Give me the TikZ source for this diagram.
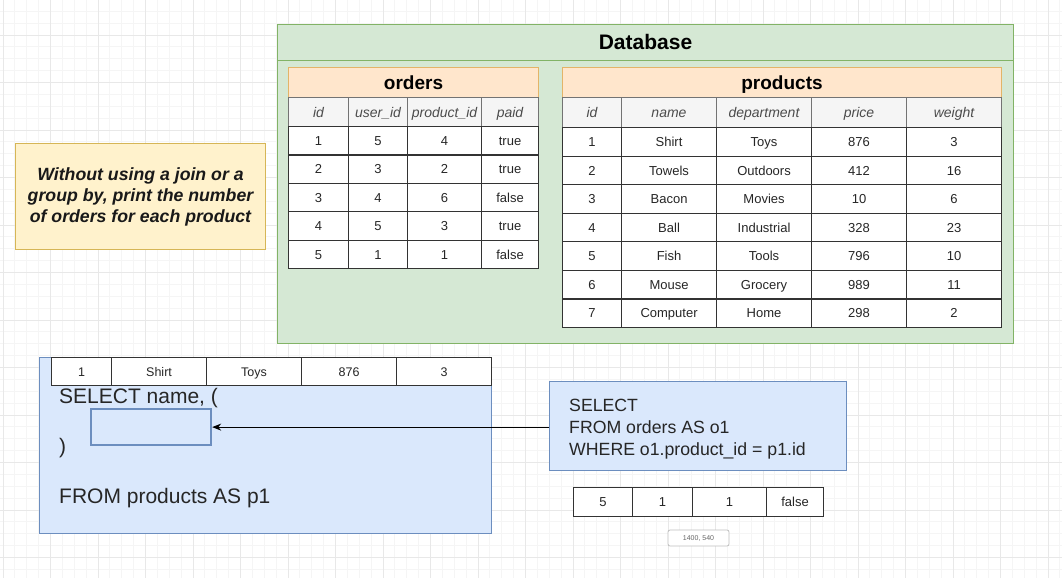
\documentclass[tikz,border=0pt]{standalone}
\usepackage{fontspec}
\setmainfont{Liberation Sans}
\usetikzlibrary{arrows.meta}
\definecolor{dbfill}{HTML}{D5E8D4}
\definecolor{dbline}{HTML}{82B366}
\definecolor{orfill}{HTML}{FFE6CC}
\definecolor{orline}{HTML}{E3B468}
\definecolor{yfill}{HTML}{FFF2CC}
\definecolor{yline}{HTML}{D6B656}
\definecolor{bfill}{HTML}{DAE8FC}
\definecolor{bline}{HTML}{6C8EBF}
\definecolor{hdfill}{HTML}{F5F5F5}
\definecolor{gridminor}{HTML}{F5F5F5}
\definecolor{gridmajor}{HTML}{E8E8E8}
\newcommand\tcell[7]{%
  \pgfmathsetmacro\cw{#4-#2}\pgfmathsetmacro\ch{#5-#3}%
  \node[#6, minimum width=\cw pt, minimum height=\ch pt, anchor=north west] (#1) at (#2,#3) {#7};}
\tikzset{
  box/.style={inner sep=0pt, line width=1pt},
  fixline/.style={text height=#1, text depth=0pt},
  dbbox/.style={box, draw=dbline, fill=dbfill},
  titlebox/.style={box, fixline=13.6pt, draw=orline, fill=orfill, font=\bfseries\fontsize{19}{22}\selectfont},
  hcell/.style={box, fixline=10pt, draw=black!55, fill=hdfill, text=black!70, font=\itshape\fontsize{14}{16}\selectfont},
  dcell/.style={box, fixline=9.3pt, draw=black!80, line width=1.1pt, fill=white, text=black!85, font=\fontsize{13}{15}\selectfont},
  ybox/.style={box, draw=yline, fill=yfill, align=center, text=black!90, font=\bfseries\itshape\fontsize{17.7}{21}\selectfont},
  bbox/.style={box, draw=bline, fill=bfill},
  sqlbig/.style={inner sep=0pt, anchor=base west, text=black!85, font=\fontsize{21}{24}\selectfont},
  sqlsmall/.style={inner sep=0pt, anchor=base west, text=black!85, font=\fontsize{17.7}{21}\selectfont},
}
\begin{document}
\begin{tikzpicture}[x=1pt,y=-1pt]
\useasboundingbox (0,0) rectangle (1062,578);
\fill[white] (0,0) rectangle (1062,578);
% grid
\foreach \i in {0,...,90} {
  \pgfmathsetmacro\gx{3+\i*11.875}
  \draw[gridminor, line width=0.8pt] (\gx,0) -- (\gx,578);
}
\foreach \j in {0,...,50} {
  \pgfmathsetmacro\gy{-12.5+\j*11.875}
  \draw[gridminor, line width=0.8pt] (0,\gy) -- (1062,\gy);
}
\foreach \i in {0,...,22} {
  \pgfmathsetmacro\gx{3+\i*47.5}
  \draw[gridmajor, line width=0.9pt] (\gx,0) -- (\gx,578);
}
\foreach \j in {0,...,12} {
  \pgfmathsetmacro\gy{-12.5+\j*47.5}
  \draw[gridmajor, line width=0.9pt] (0,\gy) -- (1062,\gy);
}
% database container
\tcell{dbtitle}{277}{24}{1013}{60}{dbbox, fixline=15pt, font=\bfseries\fontsize{21}{24}\selectfont}{Database}
\tcell{dbbody}{277}{60}{1013}{343}{dbbox}{}
% orders table
\tcell{ordtitle}{288}{67}{538}{97}{titlebox}{orders}
\foreach \xa/\xb/\t [count=\c] in {288/348/id, 348/407/user\_id, 407/481/product\_id, 481/538/paid} {
  \tcell{oh\c}{\xa}{97}{\xb}{126}{hcell}{\t}
}
\foreach \ra/\rb/\rc/\rd [count=\r] in {1/5/4/true, 2/3/2/true, 3/4/6/false, 4/5/3/true, 5/1/1/false} {
  \pgfmathsetmacro\ya{126+(\r-1)*28.4}
  \pgfmathsetmacro\yb{\ya+28.4}
  \tcell{o\r-1}{288}{\ya}{348}{\yb}{dcell}{\ra}
  \tcell{o\r-2}{348}{\ya}{407}{\yb}{dcell}{\rb}
  \tcell{o\r-3}{407}{\ya}{481}{\yb}{dcell}{\rc}
  \tcell{o\r-4}{481}{\ya}{538}{\yb}{dcell}{\rd}
}
% products table
\tcell{prodtitle}{562}{67}{1001}{97}{titlebox}{products}
\foreach \xa/\xb/\t [count=\c] in {562/621/id, 621/716/name, 716/811/department, 811/906/price, 906/1001/weight} {
  \tcell{ph\c}{\xa}{97}{\xb}{127}{hcell}{\t}
}
\foreach \ra/\rb/\rc/\rd/\re [count=\r] in {1/Shirt/Toys/876/3, 2/Towels/Outdoors/412/16, 3/Bacon/Movies/10/6, 4/Ball/Industrial/328/23, 5/Fish/Tools/796/10, 6/Mouse/Grocery/989/11, 7/Computer/Home/298/2} {
  \pgfmathsetmacro\ya{127+(\r-1)*28.57}
  \pgfmathsetmacro\yb{\ya+28.57}
  \tcell{p\r-1}{562}{\ya}{621}{\yb}{dcell}{\ra}
  \tcell{p\r-2}{621}{\ya}{716}{\yb}{dcell}{\rb}
  \tcell{p\r-3}{716}{\ya}{811}{\yb}{dcell}{\rc}
  \tcell{p\r-4}{811}{\ya}{906}{\yb}{dcell}{\rd}
  \tcell{p\r-5}{906}{\ya}{1001}{\yb}{dcell}{\re}
}
% task note
\tcell{task}{15}{143}{265}{249}{ybox}{Without using a join or a\\group by, print the number\\of orders for each product}
% outer query box
\tcell{outer}{39}{357}{491}{533}{bbox}{}
\foreach \xa/\xb/\t [count=\c] in {51/111/1, 111/206/Shirt, 206/301/Toys, 301/396/876, 396/491/3} {
  \tcell{row\c}{\xa}{357}{\xb}{385}{dcell, fixline=9pt, font=\fontsize{12.5}{15}\selectfont}{\t}
}
\node[sqlbig] (sel) at (59,403) {SELECT name, (};
\node[sqlbig] (close) at (59,453) {)};
\node[sqlbig] (from) at (59,503) {FROM products AS p1};
\tcell{inner}{90}{408}{210}{444}{bbox, line width=2.2pt}{}
% subquery box
\tcell{sub}{549}{381}{846}{470}{bbox}{}
\node[sqlsmall] (s1) at (569,411) {SELECT};
\node[sqlsmall] (s2) at (569,433) {FROM orders AS o1};
\node[sqlsmall] (s3) at (569,455) {WHERE o1.product\_id = p1.id};
\draw[line width=0.9pt, -{Stealth[length=9pt,width=7pt]}] (sub.west |- inner.east) -- (inner.east);
% result row
\foreach \xa/\xb/\t [count=\c] in {573/632/5, 632/692/1, 692/766/1, 766/823/false} {
  \tcell{res\c}{\xa}{487}{\xb}{516}{dcell}{\t}
}
\node[draw=black!25, line width=0.8pt, rounded corners=2pt, fill=white, minimum width=61pt, minimum height=16pt, inner sep=0pt, text=black!60, font=\fontsize{7}{8}\selectfont] (coord) at (698.5,538) {1400, 540};
\end{tikzpicture}
\end{document}
